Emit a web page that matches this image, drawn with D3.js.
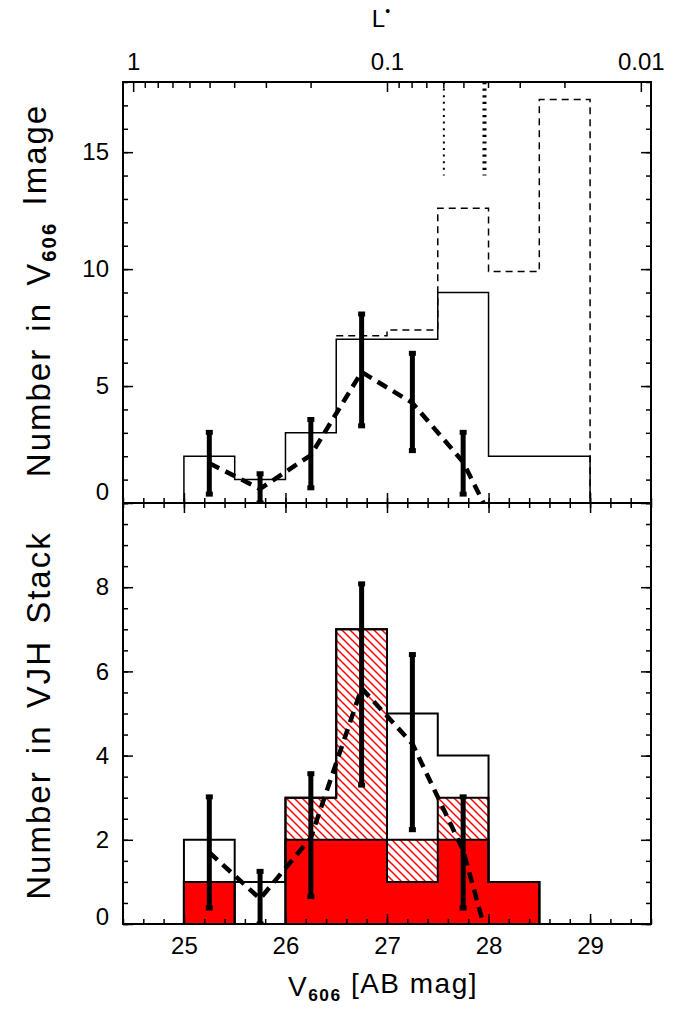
<!DOCTYPE html>
<html>
<head>
<meta charset="utf-8">
<script src="https://cdn.jsdelivr.net/npm/d3@7"></script>
<style>
  html, body { margin: 0; padding: 0; background: #fff; }
  svg text { font-family: "Liberation Sans", Arial, sans-serif; fill: #000; }
</style>
</head>
<body>
<div id="chart"></div>
<script>
'use strict';

// bin edges (V606 mag) and counts
var magEdges = [25, 25.5, 26, 26.5, 27, 27.5, 28, 28.5, 29];
var imageCounts = [2, 1, 3, 7, 7, 9, 2, 2];
var imageCorrected = [2, 1, 3, 7.15, 7.4, 12.6, 9.9, 17.25];
var stackTotal = [2, 1, 3, 7, 5, 4, 1, 0];
var stackHatched = [1, 0, 3, 7, 2, 3, 1, 0];
var stackSolid = [1, 0, 2, 2, 1, 2, 1, 0];

// points with error bars
var pointMags = [25.25, 25.75, 26.25, 26.75, 27.25, 27.75];
var errLow = [0.38, 0, 0.65, 3.3, 2.24, 0.38];
var errHigh = [3.02, 1.25, 3.57, 8.08, 6.4, 3.02];

// model curve
var modelMags = [25.25, 25.75, 26.25, 26.75, 27.25, 27.75, 27.95];
var modelCounts = [1.7, 0.6, 2.05, 5.6, 4.28, 1.75, 0];

// completeness limits
var limitMags = [27.56, 27.96];

var xTickLabels = [25, 26, 27, 28, 29];
var lumTickLabels = [1, 0.1, 0.01];
var topYTicks = [0, 5, 10, 15];
var botYTicks = [0, 2, 4, 6, 8];
var magAtLstar = 24.5;

var W = 676, H = 1009;
var L = 123, R = 651, T = 82, M = 503, B = 924;
var FONT = 24;

function lum(m) { return Math.pow(10, -0.4 * (m - magAtLstar)); }

var x = d3.scaleLinear().domain([24.4, 29.6]).range([L, R]);
var xL = d3.scaleLog().domain([lum(24.4), lum(29.6)]).range([L, R]);
var yTop = d3.scaleLinear().domain([0, 18]).range([M, T]);
var yBot = d3.scaleLinear().domain([0, 10]).range([B, M]);

var $svg = d3.select('#chart').append('svg')
  .attr('width', W)
  .attr('height', H);

var $defs = $svg.append('defs');
$defs.append('pattern')
  .attr('id', 'hatch')
  .attr('patternUnits', 'userSpaceOnUse')
  .attr('width', 8)
  .attr('height', 8)
  .append('path')
  .attr('d', 'M0,0L8,8M-2,6L2,10M6,-2L10,2')
  .attr('stroke', '#ff0000')
  .attr('stroke-width', 1.5);

$defs.append('clipPath').attr('id', 'clipTop')
  .append('rect').attr('x', L).attr('y', T).attr('width', R - L).attr('height', M - T);
$defs.append('clipPath').attr('id', 'clipBot')
  .append('rect').attr('x', L).attr('y', M).attr('width', R - L).attr('height', B - M);

function stepPoints(edges, vals) {
  var pts = [[edges[0], 0]];
  vals.forEach(function(v, i) {
    pts.push([edges[i], v]);
    pts.push([edges[i + 1], v]);
  });
  pts.push([edges[edges.length - 1], 0]);
  return pts;
}

function drawModel($g, y) {
  $g.append('path')
    .datum(d3.zip(modelMags, modelCounts))
    .attr('d', d3.line().x(function(d) { return x(d[0]); }).y(function(d) { return y(d[1]); }))
    .attr('fill', 'none')
    .attr('stroke', '#000')
    .attr('stroke-width', 4.5)
    .attr('stroke-dasharray', '11,7');
}

function drawErrors($g, y) {
  var $e = $g.append('g');
  pointMags.forEach(function(m, i) {
    $e.append('line')
      .attr('x1', x(m)).attr('x2', x(m))
      .attr('y1', y(errLow[i])).attr('y2', y(errHigh[i]))
      .attr('stroke', '#000')
      .attr('stroke-width', 5);
    [errLow[i], errHigh[i]].forEach(function(v) {
      $e.append('rect')
        .attr('x', x(m) - 3.5).attr('y', y(v) - 2.5)
        .attr('width', 7).attr('height', 5)
        .attr('fill', '#000');
    });
  });
}

// ---- top panel
var $top = $svg.append('g').attr('clip-path', 'url(#clipTop)');
var line = d3.line().x(function(d) { return x(d[0]); });

$top.append('path')
  .datum(stepPoints(magEdges.slice(3), imageCorrected.slice(3)).slice(1))
  .attr('d', line.y(function(d) { return yTop(d[1]); }))
  .attr('fill', 'none')
  .attr('stroke', '#000')
  .attr('stroke-width', 1.5)
  .attr('stroke-dasharray', '7,5');

$top.append('path')
  .datum(stepPoints(magEdges, imageCounts))
  .attr('d', line.y(function(d) { return yTop(d[1]); }))
  .attr('fill', 'none')
  .attr('stroke', '#000')
  .attr('stroke-width', 1.5);

limitMags.forEach(function(m, i) {
  $top.append('line')
    .attr('x1', x(m)).attr('x2', x(m))
    .attr('y1', yTop(18)).attr('y2', yTop(14))
    .attr('stroke', '#000')
    .attr('stroke-width', i === 0 ? 2 : 4)
    .attr('stroke-dasharray', i === 0 ? '2,4.6' : '2.2,4.4');
});

drawModel($top, yTop);
drawErrors($top, yTop);

// ---- bottom panel
var $bot = $svg.append('g').attr('clip-path', 'url(#clipBot)');
var binW = magEdges[1] - magEdges[0];

stackSolid.forEach(function(v, i) {
  var x0 = x(magEdges[i]), w = x(magEdges[i] + binW) - x0;
  if (stackHatched[i] > v) {
    $bot.append('rect')
      .attr('x', x0).attr('width', w)
      .attr('y', yBot(stackHatched[i])).attr('height', yBot(v) - yBot(stackHatched[i]))
      .attr('fill', 'url(#hatch)');
  }
  if (v > 0) {
    $bot.append('rect')
      .attr('x', x0 - 0.5).attr('width', w + 1)
      .attr('y', yBot(v)).attr('height', yBot(0) - yBot(v))
      .attr('fill', '#ff0000');
  }
});

[stackSolid, stackHatched, stackTotal].forEach(function(vals) {
  $bot.append('path')
    .datum([[24.75, 0]].concat(stepPoints(magEdges, vals), [[28.75, 0]]))
    .attr('d', line.y(function(d) { return yBot(d[1]); }))
    .attr('fill', 'none')
    .attr('stroke', '#000')
    .attr('stroke-width', 2);
});

drawModel($bot, yBot);
drawErrors($bot, yBot);

// ---- axes
function styleAxis($g) {
  $g.select('.domain').remove();
  $g.selectAll('line').attr('stroke', '#000').attr('stroke-width', 1.5);
  $g.selectAll('text').attr('font-size', FONT).attr('font-family', null);
  return $g;
}

function addAxis(axis, tx, ty) {
  return styleAxis($svg.append('g')
    .attr('transform', 'translate(' + tx + ',' + ty + ')')
    .call(axis));
}

var xMinor = d3.range(24.4, 29.61, 0.2);
var lumMinor = [0.9, 0.8, 0.7, 0.6, 0.5, 0.4, 0.3, 0.2, 0.09, 0.08, 0.07, 0.06, 0.05, 0.04, 0.03, 0.02];

// top panel: L* on top
addAxis(d3.axisTop(xL).tickValues(lumTickLabels).tickSize(-10).tickPadding(12)
  .tickFormat(function(d) { return String(d); }), 0, T);
addAxis(d3.axisTop(xL).tickValues(lumMinor).tickSize(-6).tickFormat(''), 0, T);
// top panel bottom edge
addAxis(d3.axisBottom(x).tickValues(xTickLabels).tickSize(-10).tickFormat(''), 0, M);
addAxis(d3.axisBottom(x).tickValues(xMinor).tickSize(-5).tickFormat(''), 0, M);
// top panel y
var $ty = addAxis(d3.axisLeft(yTop).tickValues(topYTicks).tickSize(-10).tickPadding(14), L, 0);
$ty.selectAll('text').filter(function(d) { return d === 0; }).attr('dy', '-0.15em');
addAxis(d3.axisLeft(yTop).tickValues(d3.range(0, 19)).tickSize(-5).tickFormat(''), L, 0);
addAxis(d3.axisRight(yTop).tickValues(topYTicks).tickSize(-10).tickFormat(''), R, 0);
addAxis(d3.axisRight(yTop).tickValues(d3.range(0, 19)).tickSize(-5).tickFormat(''), R, 0);

// bottom panel
addAxis(d3.axisTop(x).tickValues(xTickLabels).tickSize(-10).tickFormat(''), 0, M);
addAxis(d3.axisTop(x).tickValues(xMinor).tickSize(-5).tickFormat(''), 0, M);
addAxis(d3.axisBottom(x).tickValues(xTickLabels).tickSize(-10).tickPadding(13)
  .tickFormat(d3.format('d')), 0, B);
addAxis(d3.axisBottom(x).tickValues(xMinor).tickSize(-5).tickFormat(''), 0, B);
var $by = addAxis(d3.axisLeft(yBot).tickValues(botYTicks).tickSize(-10).tickPadding(14), L, 0);
$by.selectAll('text').filter(function(d) { return d === 0; }).attr('dy', '0');
addAxis(d3.axisLeft(yBot).tickValues(d3.range(0, 10.01, 0.5)).tickSize(-5).tickFormat(''), L, 0);
addAxis(d3.axisRight(yBot).tickValues(botYTicks).tickSize(-10).tickFormat(''), R, 0);
addAxis(d3.axisRight(yBot).tickValues(d3.range(0, 10.01, 0.5)).tickSize(-5).tickFormat(''), R, 0);

// frames
[[T, M], [M, B]].forEach(function(p) {
  $svg.append('rect')
    .attr('x', L).attr('y', p[0])
    .attr('width', R - L).attr('height', p[1] - p[0])
    .attr('fill', 'none')
    .attr('stroke', '#000')
    .attr('stroke-width', 2);
});

// titles
var TITLE = 28, YTITLE = 33;
function subTitle($t, size, a, sub, b) {
  $t.append('tspan').text(a);
  $t.append('tspan').text(sub)
    .attr('font-size', size * 0.62).attr('font-weight', 'bold').attr('dy', '0.3em');
  $t.append('tspan').text(b).attr('dy', '-0.3em').attr('font-size', size);
}

var $yt1 = $svg.append('text')
  .attr('transform', 'translate(50,' + ((T + M) / 2 - 2) + ') rotate(-90)')
  .attr('text-anchor', 'middle')
  .attr('font-size', YTITLE)
  .attr('letter-spacing', 2)
  .attr('word-spacing', 5);
subTitle($yt1, YTITLE, 'Number in V', '606', ' Image');

$svg.append('text')
  .attr('transform', 'translate(50,' + ((M + B) / 2 + 2) + ') rotate(-90)')
  .attr('text-anchor', 'middle')
  .attr('font-size', YTITLE)
  .attr('letter-spacing', 2)
  .attr('word-spacing', 5)
  .text('Number in VJH Stack');

var $xt = $svg.append('text')
  .attr('x', (L + R) / 2 - 4).attr('y', 996)
  .attr('text-anchor', 'middle')
  .attr('font-size', TITLE)
  .attr('letter-spacing', 1.5);
subTitle($xt, TITLE, 'V', '606', ' [AB mag]');

var $lt = $svg.append('text')
  .attr('x', (L + R) / 2 - 6).attr('y', 27)
  .attr('text-anchor', 'middle')
  .attr('font-size', FONT);
$lt.append('tspan').text('L');
$lt.append('tspan').text('•').attr('font-size', 14).attr('dy', '-0.8em');
</script>
</body>
</html>
